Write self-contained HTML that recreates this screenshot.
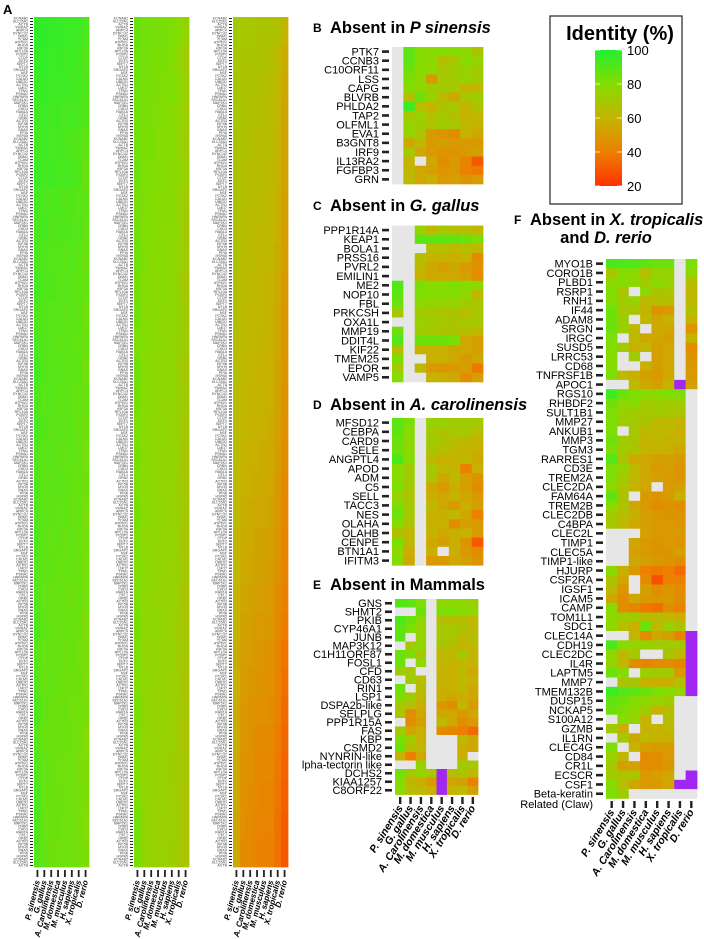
<!DOCTYPE html>
<html><head><meta charset="utf-8">
<style>
html,body{margin:0;padding:0;background:#fff;}
svg{display:block;font-family:"Liberation Sans",Arial,sans-serif;}
</style></head>
<body>
<svg id="fig" width="704" height="939" viewBox="0 0 704 939" xmlns="http://www.w3.org/2000/svg">
  <defs>
    <linearGradient id="cbar" x1="0" y1="1" x2="0" y2="0">
      <stop offset="0" stop-color="#ff3000"/>
      <stop offset="0.25" stop-color="#ec8000"/>
      <stop offset="0.5" stop-color="#c4b400"/>
      <stop offset="0.75" stop-color="#86dc00"/>
      <stop offset="1" stop-color="#22f030"/>
    </linearGradient>
  </defs>
  <g><text x="3" y="14" font-size="13" font-weight="bold">A</text></g>
  <g>
    <rect x="550" y="16" width="132" height="188" fill="#fff" stroke="#333" stroke-width="1.3"/>
    <text x="620" y="40" font-size="20" font-weight="bold" text-anchor="middle">Identity (%)</text>
    <rect x="595" y="50" width="27" height="136" fill="url(#cbar)"/>
    <g id="legendTicks"></g>
  </g>
  <g id="panels"></g>
</svg>
<script>
// ---------- shared data ----------
const species = ["P. sinensis","G. gallus","A. Carolinensis","M. domestica","M. musculus","H. sapiens","X. tropicalis","D. rerio"];
const legendTicks = [100,80,60,40,20];
const n = null, P = -1;

// Panel B
const genesB = ["PTK7","CCNB3","C10ORF11","LSS","CAPG","BLVRB","PHLDA2","TAP2","OLFML1","EVA1","B3GNT8","IRF9","IL13RA2","FGFBP3","GRN"];
const valuesB = [
[n,88,80,80,80,80,78,68],[n,88,80,78,65,70,80,75],[n,85,80,78,70,72,75,72],[n,82,78,50,70,72,75,72],
[n,80,78,72,72,70,60,62],[n,65,85,75,62,55,70,72],[n,95,65,60,68,70,60,68],[n,70,75,65,70,65,60,62],
[n,75,72,68,72,70,62,60],[n,75,70,50,48,45,60,55],[n,55,62,50,52,50,50,50],[n,70,55,50,48,48,50,52],
[n,60,n,55,45,50,42,30],[n,62,55,52,48,50,40,38],[n,62,55,58,50,52,48,50]];

// Panel C
const genesC = ["PPP1R14A","KEAP1","BOLA1","PRSS16","PVRL2","EMILIN1","ME2","NOP10","FBL","PRKCSH","OXA1L","MMP19","DDIT4L","KIF22","TMEM25","EPOR","VAMP5"];
const valuesC = [
[n,n,75,62,70,65,65,62],[n,n,88,88,88,88,85,82],[n,n,n,65,65,62,65,62],[n,n,65,60,60,58,60,45],
[n,n,62,55,52,55,50,48],[n,n,60,55,55,55,52,45],[90,n,82,80,80,82,80,78],[88,n,82,80,80,80,78,62],
[85,n,78,75,75,75,72,70],[70,n,72,70,68,68,65,68],[n,n,75,72,70,68,70,70],[85,n,72,70,68,68,65,62],
[90,n,85,85,85,82,55,52],[65,n,60,58,58,55,55,52],[82,n,n,58,58,55,50,55],[72,n,62,50,48,50,52,38],
[80,n,n,60,58,55,45,52]];

// Panel D
const genesD = ["MFSD12","CEBPA","CARD9","SELE","ANGPTL4","APOD","ADM","C5","SELL","TACC3","NES","OLAHA","OLAHB","CENPE","BTN1A1","IFITM3"];
const valuesD = [
[88,82,n,75,75,72,72,70],[88,80,n,70,68,70,70,65],[85,78,n,72,68,65,62,60],[85,78,n,68,65,62,60,58],
[92,80,n,62,58,60,62,55],[80,72,n,70,62,60,40,58],[80,72,n,68,55,62,52,48],[82,70,n,55,50,58,52,45],
[75,68,n,58,55,60,55,50],[82,70,n,62,55,50,58,52],[85,70,n,60,58,62,55,40],[80,68,n,58,58,45,52,50],
[65,62,n,60,55,58,60,50],[82,62,n,55,52,58,48,30],[78,58,n,58,n,58,50,45],[80,55,n,50,50,55,52,48]];

// Panel E
const genesE = ["GNS","SHMT2","PKIB","CYP46A1","JUNB","MAP3K12","C1H11ORF87","FOSL1","CFD","CD63","RIN1","LSP1","DSPA2b-like","SELPLG","PPP1R15A","FAS","KBP","CSMD2","NYNRIN-like","lpha-tectorin like","DCHS2","KIAA1257","C8ORF22"];
const valuesE = [
[90,88,82,n,78,78,78,75],[n,n,85,n,82,82,80,78],[92,85,78,n,65,65,65,62],[88,82,75,n,70,70,68,62],
[88,n,75,n,70,70,62,65],[n,70,78,n,68,65,60,62],[85,82,70,n,62,62,70,60],[85,n,78,n,62,60,62,60],
[72,70,n,n,60,58,62,55],[n,72,65,n,60,58,62,58],[85,n,65,n,58,60,62,55],[82,72,62,n,58,55,58,55],
[70,65,58,n,48,45,62,50],[68,45,55,n,55,55,50,55],[n,45,52,n,62,55,45,50],[72,55,58,n,45,42,40,35],
[82,72,58,n,n,n,62,55],[85,65,62,n,n,n,58,55],[60,40,55,n,n,n,58,n],[n,n,75,n,n,n,72,70],
[85,70,75,70,P,65,68,62],[80,60,58,50,P,55,52,40],[78,65,62,58,P,60,62,52]];

// Panel F
const genesF = ["MYO1B","CORO1B","PLBD1","RSRP1","RNH1","IF44","ADAM8","SRGN","IRGC","SUSD5","LRRC53","CD68","TNFRSF1B","APOC1","RGS10","RHBDF2","SULT1B1","MMP27","ANKUB1","MMP3","TGM3","RARRES1","CD3E","TREM2A","CLEC2DA","FAM64A","TREM2B","CLEC2DB","C4BPA","CLEC2L","TIMP1","CLEC5A","TIMP1-like","HJURP","CSF2RA","IGSF1","ICAM5","CAMP","TOM1L1","SDC1","CLEC14A","CDH19","CLEC2DC","IL4R","LAPTM5","MMP7","TMEM132B","DUSP15","NCKAP5","S100A12","GZMB","IL1RN","CLEC4G","CD84","CR1L","ECSCR","CSF1","Beta-keratin"];
const valuesF = [
[92,92,90,88,85,85,n,82],[70,80,78,65,75,75,n,78],[78,80,78,72,78,75,n,65],[82,68,n,78,68,70,n,62],
[80,72,75,62,65,65,n,62],[85,70,68,60,48,50,n,65],[85,72,n,62,55,60,n,60],[85,75,62,n,55,55,n,48],
[82,n,62,55,55,52,n,60],[80,72,58,62,52,55,n,45],[80,n,72,n,52,55,n,48],[80,n,n,58,52,55,n,50],
[82,62,58,52,50,55,n,50],[n,n,62,55,52,60,P,52],[95,85,82,80,80,82,82,n],[85,78,80,72,72,72,72,n],
[82,75,72,70,72,70,68,n],[82,72,70,68,62,62,60,n],[82,n,70,62,62,62,58,n],[85,72,68,60,62,58,60,n],
[82,72,68,60,60,58,55,n],[90,68,55,55,52,52,50,n],[82,75,62,55,50,52,48,n],[82,72,62,55,52,50,48,n],
[78,68,60,55,n,50,52,n],[88,68,n,50,48,50,58,n],[80,68,55,50,45,48,45,n],[72,65,58,52,50,48,48,n],
[70,62,55,52,50,50,48,n],[n,n,n,52,50,50,50,n],[n,n,55,50,48,50,48,n],[n,n,52,50,48,48,52,n],
[n,n,55,52,50,48,45,n],[78,58,50,40,38,40,35,n],[68,55,n,45,28,40,40,n],[62,48,n,52,45,48,45,n],
[55,45,55,50,48,50,45,n],[80,45,42,38,36,45,40,n],[78,72,72,65,65,62,58,n],[78,65,58,85,62,75,68,n],
[n,n,62,45,55,52,42,P],[92,80,75,75,72,72,70,P],[78,62,70,n,n,68,62,P],[75,62,45,42,45,45,42,P],
[85,80,n,75,72,72,50,P],[n,68,68,58,58,58,65,P],[95,90,88,85,82,80,75,P],[88,85,80,78,75,72,n,n],
[85,82,78,72,60,65,n,n],[n,80,75,60,n,65,n,n],[72,58,n,60,60,62,n,n],[n,70,55,62,60,58,n,n],
[82,n,60,52,50,50,n,n],[75,62,n,45,45,50,n,n],[70,52,52,45,45,48,n,n],[72,68,68,50,52,55,n,P],
[80,65,55,50,50,55,P,P],[82,72,n,n,n,n,n,n]];

// Panel A (three columns, coarse blocks)
const valuesA1 = [
"97 97 96 96 95 95 94 92","96 97 95 96 94 95 93 90","95 96 95 94 95 93 93 91","94 95 93 94 92 93 92 90",
"93 94 92 93 92 91 90 88","95 93 94 92 93 92 91 86","93 92 91 92 90 91 89 88","92 93 90 91 91 90 90 87",
"92 91 90 90 89 90 88 86","93 91 91 89 90 89 88 87","91 90 89 90 88 89 88 85","92 90 90 88 89 88 87 86",
"93 90 89 90 88 88 88 84","91 89 90 88 89 87 87 86","92 90 88 89 88 88 86 85","90 89 89 88 87 88 87 84",
"91 88 88 89 88 87 86 85","90 89 88 87 88 86 87 83","91 88 87 88 86 87 85 84","89 88 88 86 87 86 86 83",
"90 87 86 87 86 85 86 84","91 88 87 86 86 86 85 82","89 87 86 87 85 86 84 83","90 86 87 86 85 85 85 82",
"91 87 86 85 86 84 84 83","89 86 85 86 85 85 84 81","90 87 86 85 84 85 83 82","92 86 86 85 85 84 84 82",
"91 86 85 86 84 85 83 81","90 87 85 84 85 84 84 82"];
const valuesA2 = [
"86 84 84 83 83 82 80 76","85 84 83 82 83 81 78 72","85 83 83 82 81 82 79 74","84 83 82 82 81 80 78 73",
"84 82 83 81 80 80 77 72","85 82 82 81 80 79 78 74","83 82 81 80 80 79 76 72","84 81 81 80 79 79 77 71",
"84 82 80 80 79 78 76 72","83 81 80 79 80 78 75 70","84 80 80 79 78 78 76 71","82 81 79 79 78 77 75 72",
"84 80 79 78 78 78 74 70","83 80 79 78 77 77 75 71","82 80 78 78 77 76 74 70","83 79 79 77 77 76 74 69",
"82 79 78 78 76 76 73 70","83 79 78 77 77 75 74 70","82 78 78 77 76 76 73 69","81 79 77 76 76 75 74 70",
"82 78 77 76 75 75 73 68","83 78 77 77 76 74 72 69","82 77 77 76 75 75 72 70","81 78 76 76 75 74 73 68",
"83 77 76 75 76 74 72 69","82 77 76 76 74 74 71 68","81 77 76 75 74 73 72 69","82 76 76 75 75 73 71 68",
"84 77 75 75 74 74 72 67","83 76 76 74 74 73 71 68"];
const valuesA3 = [
"72 70 70 69 68 68 66 60","70 69 68 68 67 66 63 56","69 68 68 66 66 65 62 55","70 68 66 66 65 64 61 54",
"68 67 66 65 64 64 60 54","67 66 65 64 64 63 60 53","68 66 64 64 63 62 58 52","66 65 64 63 62 62 58 51",
"67 64 64 62 62 61 57 51","65 64 63 62 61 60 56 50","66 63 62 61 61 60 55 49","64 63 62 61 60 59 55 48",
"65 62 61 60 59 59 54 48","64 62 60 60 59 58 53 47","63 61 60 59 58 57 52 46","64 60 59 58 57 56 51 45",
"62 59 58 57 56 55 50 44","63 58 57 55 55 54 49 43","60 57 56 54 53 52 48 42","61 56 55 53 52 51 47 41",
"59 55 53 52 51 50 45 40","60 54 52 50 50 49 44 39","57 52 51 49 48 47 42 37","58 51 49 48 47 46 41 36",
"56 50 48 46 46 45 40 35","57 49 47 45 44 44 39 34","55 48 46 44 43 43 38 33","56 47 45 43 42 42 37 32",
"54 46 44 42 41 41 36 31","55 45 43 41 40 40 36 30"];
const geneNamesA = ["ARPC4","SEC61A1","H3F3A","GRB2","NTLB","HSPA5","ACTN1","DYNC1I2","MAP2K1","RPL10A","ACTR3","SRGAP2","KCNAB2","LMO7","DNM1","CRBN","PCBP2","KIF5B","NSF","SLC25A1","TPM1","TCAM","CHD3","CTDP","MYH9","PCSK2","ACTB","PSMA1","ATP6V1","RAB1A","EEF2","GNAS","CALM1","YWHAZ","HNRNPA","RHOA","CFL1","SEPT7","PPIA","UBE2D"];

// ---------- helpers ----------
const NS = 'http://www.w3.org/2000/svg';
const root = document.getElementById('panels');
function mk(tag, attrs, parent){ const e=document.createElementNS(NS,tag); for(const k in attrs) e.setAttribute(k,attrs[k]); (parent||root).appendChild(e); return e; }
function lerp(a,b,t){return Math.round(a+(b-a)*t);}
const stops=[[20,[255,48,0]],[40,[236,128,0]],[60,[196,180,0]],[80,[134,220,0]],[100,[34,240,48]]];
function color(v){
  if(v===null) return '#e6e6e6';
  if(v===-1) return '#a128f2';
  v=Math.max(20,Math.min(100,v));
  for(let i=0;i<stops.length-1;i++){
    const [a,ca]=stops[i],[b,cb]=stops[i+1];
    if(v<=b){const t=(v-a)/(b-a);return `rgb(${lerp(ca[0],cb[0],t)},${lerp(ca[1],cb[1],t)},${lerp(ca[2],cb[2],t)})`;}
  }
  return 'rgb(34,240,48)';
}

// legend ticks
const lt=document.getElementById('legendTicks');
const cbY=v=>186-(v-20)/80*136;
legendTicks.forEach(v=>{
  const y=cbY(v);
  const t=mk('text',{x:627,y:y+5,'font-size':13},lt);
  t.textContent=v;
  
  
  const d=mk('line',{x1:595,x2:600,y1:y,y2:y,stroke:'#fff','stroke-width':1,opacity:0.7},lt);
  
  
  const d2=mk('line',{x1:617,x2:622,y1:y,y2:y,stroke:'#fff','stroke-width':1,opacity:0.7},lt);
  
  
});

function drawPanel(cfg){
  const g=mk('g',{});
  
  
  const cw=(cfg.x1-cfg.x0)/8;
  const xOf=c=>cfg.x0+c*cw;
  const yOf=r=>cfg.y0+r*cfg.rh;
  cfg.values.forEach((row,r)=>{
    row.forEach((v,c)=>{
      const rc=mk('rect',{x:xOf(c).toFixed(2),y:yOf(r).toFixed(2),width:(cw+0.4).toFixed(2),height:(cfg.rh+0.4).toFixed(2),fill:color(v)},g);
      
      
    });
  });
  cfg.genes.forEach((name,r)=>{
    const yc=yOf(r)+cfg.rh/2;
    const tk=mk('rect',{x:cfg.x0-10,y:(yc-1.3).toFixed(2),width:7,height:2.6,fill:'#222'},g);
    
    
    const t=mk('text',{x:cfg.x0-13,y:(yc+3.8).toFixed(2),'font-size':cfg.fs,'text-anchor':'end'},g);
    t.textContent=name;
    
    
  });
  if(cfg.extraLabel){
    const t=mk('text',{x:cfg.x0-13,y:(yOf(cfg.genes.length)+cfg.rh/2+5).toFixed(2),'font-size':cfg.fs,'text-anchor':'end'},g);
    t.textContent=cfg.extraLabel;
    
    
  }
  if(!cfg.showSpecies) return;
  const yb=cfg.tickY;
  species.forEach((s,c)=>{
    const xc=xOf(c)+cw/2;
    const tk=mk('rect',{x:(xc-1.2).toFixed(2),y:yb,width:2.4,height:7,fill:'#222'},g);
    
    
    const t=mk('text',{x:0,y:0,'font-size':cfg.sfs,'font-weight':'bold','font-style':'italic','text-anchor':'end',
      transform:`translate(${(xc+3).toFixed(2)},${yb+11}) rotate(${cfg.rot})`},g);
    t.textContent=s;
    
    
  });
}
function title(letter,x,y,plain,ital,name){
  const g=mk('g',{});
  
  
  const a=mk('text',{x:x,y:y,'font-size':12,'font-weight':'bold'},g); a.textContent=letter;
  const t=mk('text',{x:x+17,y:y+1,'font-size':16.5,'font-weight':'bold'},g);
  const s1=mk('tspan',{},t); s1.textContent=plain;
  if(ital){const s2=mk('tspan',{'font-style':'italic'},t); s2.textContent=ital;}
}

title('B',313,32,'Absent in ','P sinensis','panel-b-title');
title('C',313,210,'Absent in ','G. gallus','panel-c-title');
title('D',313,409,'Absent in ','A. carolinensis','panel-d-title');
title('E',313,589,'Absent in Mammals','','panel-e-title');
// F title
(function(){
  const g=mk('g',{});
  
  
  const a=mk('text',{x:514,y:224,'font-size':12,'font-weight':'bold'},g); a.textContent='F';
  const t=mk('text',{x:530,y:225,'font-size':16.5,'font-weight':'bold'},g);
  const s1=mk('tspan',{},t); s1.textContent='Absent in ';
  const s2=mk('tspan',{'font-style':'italic'},t); s2.textContent='X. tropicalis';
  const t2=mk('text',{x:606,y:243,'font-size':16.5,'font-weight':'bold','text-anchor':'middle'},g);
  const s3=mk('tspan',{},t2); s3.textContent='and ';
  const s4=mk('tspan',{'font-style':'italic'},t2); s4.textContent='D. rerio';
})();

drawPanel({name:'panel-b-heatmap',genes:genesB,values:valuesB,x0:392,x1:483,y0:47,rh:9.13,fs:11});
drawPanel({name:'panel-c-heatmap',genes:genesC,values:valuesC,x0:392,x1:483,y0:225.5,rh:9.2,fs:11});
drawPanel({name:'panel-d-heatmap',genes:genesD,values:valuesD,x0:392,x1:483,y0:418,rh:9.2,fs:11});
drawPanel({name:'panel-e-heatmap',genes:genesE,values:valuesE,x0:395,x1:478,y0:599,rh:8.5,fs:11,showSpecies:true,tickY:797,sfs:10.5,rot:-58});
drawPanel({name:'panel-f-heatmap',genes:genesF,values:valuesF,x0:606,x1:697,y0:259,rh:9.3,fs:11,showSpecies:true,tickY:801,sfs:10.5,rot:-58,extraLabel:'Related (Claw)'});

// Panel A columns
function drawA(vals,x0,name){
  const g=mk('g',{});
  
  
  const x1=x0+55, y0=17, y1=867, cw=(x1-x0)/8;
  const rows=vals.map(s=>s.split(' ').map(Number));
  const rh=(y1-y0)/rows.length;
  rows.forEach((row,r)=>row.forEach((v,c)=>{
    const rc=mk('rect',{x:(x0+c*cw).toFixed(2),y:(y0+r*rh).toFixed(2),width:(cw+0.4).toFixed(2),height:(rh+0.4).toFixed(2),fill:color(v)},g);
    
    
  }));
  const nLab=283, lh=(y1-y0)/nLab;
  for(let i=0;i<nLab;i++){
    const yc=y0+(i+0.5)*lh;
    const tk=mk('rect',{x:x0-4,y:(yc-0.5).toFixed(2),width:3,height:1,fill:'#222'},g);
    
    
    const t=mk('text',{x:x0-6,y:(yc+1.2).toFixed(2),'font-size':3.6,'text-anchor':'end',fill:'#444'},g);
    t.textContent=geneNamesA[(i*7+name.length)%geneNamesA.length];
    
    
  }
  species.forEach((s,c)=>{
    const xc=x0+(c+0.5)*cw;
    const tk=mk('rect',{x:(xc-0.9).toFixed(2),y:870,width:1.8,height:7,fill:'#222'},g);
    
    
    const t=mk('text',{x:0,y:0,'font-size':8,'font-weight':'bold','font-style':'italic','text-anchor':'end',
      transform:`translate(${(xc+2.5).toFixed(2)},881) rotate(-76)`},g);
    t.textContent=s;
    
    
  });
}
drawA(valuesA1,34,'panel-a-col1');
drawA(valuesA2,134,'panel-a-col2');
drawA(valuesA3,233,'panel-a-col3');
</script>
</body></html>
